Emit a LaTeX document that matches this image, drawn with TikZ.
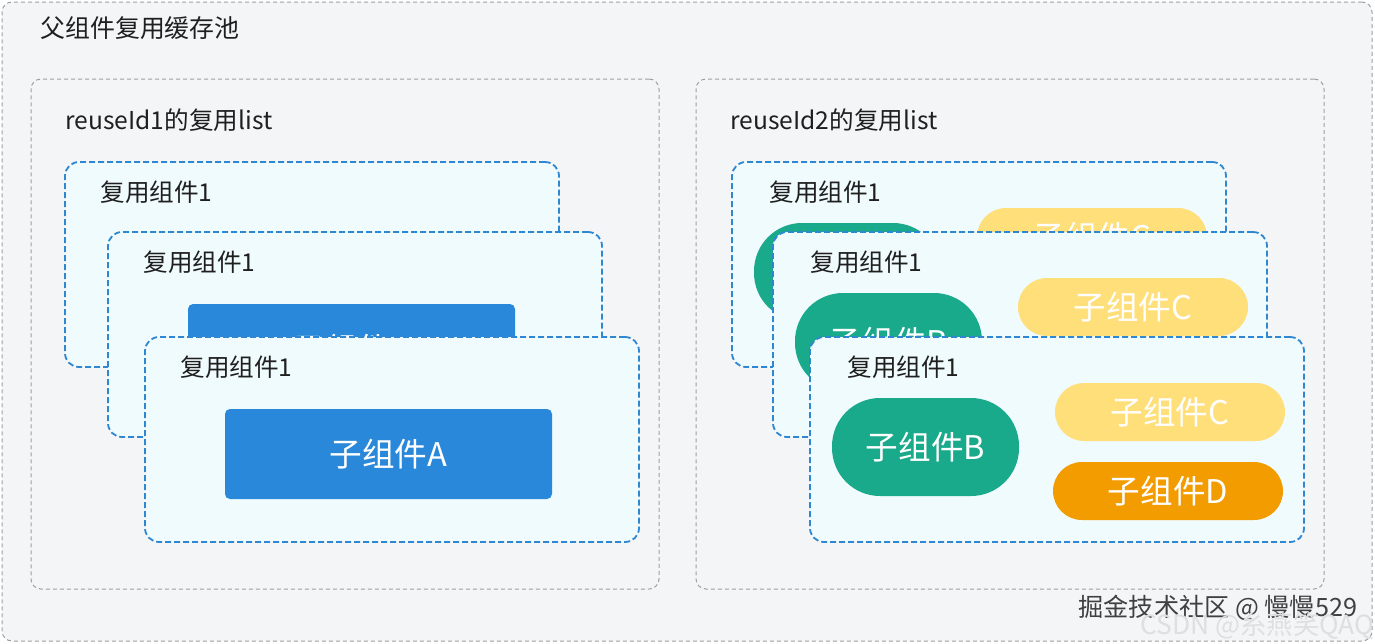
\documentclass[tikz,border=0pt]{standalone}
\usepackage{fontspec}
\setmainfont{Noto Sans CJK SC}
\definecolor{bgfill}{HTML}{F4F5F7}
\definecolor{cardfill}{HTML}{F0FBFE}
\definecolor{cardblue}{HTML}{2F86D1}
\definecolor{boxblue}{HTML}{2A88DA}
\definecolor{green}{HTML}{18AA8A}
\definecolor{yellow}{HTML}{FFDF7A}
\definecolor{orange}{HTML}{F39C00}
\definecolor{txt}{HTML}{1F1F1F}
\begin{document}
\begin{tikzpicture}[x=0.5pt,y=-0.5pt,
  box/.style={inner sep=0pt, outer sep=0pt, anchor=north west},
  graybox/.style={box, draw=gray!75, line width=0.5pt, dash pattern=on 2pt off 1.5pt, rounded corners=5pt},
  card/.style={box, draw=cardblue, fill=cardfill, line width=0.9pt, dash pattern=on 3pt off 1.5pt, rounded corners=7pt, minimum width=247pt, minimum height=102.5pt},
  lbl/.style={anchor=west, inner sep=0pt, text=txt, font=\fontsize{12.3pt}{14pt}\selectfont},
  inner/.style={box, text=white, font=\fontsize{16.3pt}{18pt}\selectfont},
  bluebox/.style={inner, fill=boxblue, rounded corners=2.5pt, minimum width=163.5pt, minimum height=45pt},
  greenbox/.style={inner, fill=green, rounded corners=24pt, minimum width=93.5pt, minimum height=49pt},
  ybox/.style={inner, fill=yellow, rounded corners=14.5pt, minimum width=115pt, minimum height=29pt},
  obox/.style={inner, fill=orange, rounded corners=14.5pt, minimum width=115pt, minimum height=29pt}
]
\useasboundingbox (0,0) rectangle (1375,643);
\node[graybox, fill=bgfill, minimum width=685pt, minimum height=319.5pt] (outer) at (2,2) {};
\node[lbl, font=\fontsize{12.45pt}{14pt}\selectfont] (title) at (40,28) {父组件复用缓存池};
\node[graybox, minimum width=314pt, minimum height=255pt] (g1) at (31,79) {};
\node[graybox, minimum width=314pt, minimum height=255pt] (g2) at (696,79) {};
\node[lbl] (g1t) at ([shift={(34,41)}]g1.north west) {reuseId1的复用list};
\node[lbl] (g2t) at ([shift={(34,41)}]g2.north west) {reuseId2的复用list};
\foreach \i/\x/\y in {1/65/162, 2/108/232, 3/145/337}{
  \node[card] (lc\i) at (\x,\y) {};
  \node[lbl] (lct\i) at ([shift={(35,30)}]lc\i.north west) {复用组件1};
  \node[bluebox] (la\i) at ([shift={(80,72)}]lc\i.north west) {子组件A};
}
\foreach \i/\x/\y in {1/732/162, 2/773/232, 3/810/337}{
  \node[card] (rc\i) at (\x,\y) {};
  \node[lbl] (rct\i) at ([shift={(37,30)}]rc\i.north west) {复用组件1};
  \node[greenbox] (rb\i) at ([shift={(22,61)}]rc\i.north west) {子组件B};
  \node[ybox] (rcc\i) at ([shift={(245,46)}]rc\i.north west) {子组件C};
  \node[obox] (rd\i) at ([shift={(243,125)}]rc\i.north west) {子组件D};
}
\node[anchor=west, inner sep=0pt, text=black!75, font=\fontsize{12.6pt}{14pt}\selectfont] (wm1) at (1078,608) {掘金技术社区 @ 慢慢529};
\node[anchor=west, inner sep=0pt, text=gray!25, font=\fontsize{13.2pt}{15pt}\selectfont] (wm2) at (1140,626) {CSDN @糸燕笑QAQ};
\end{tikzpicture}
\end{document}
